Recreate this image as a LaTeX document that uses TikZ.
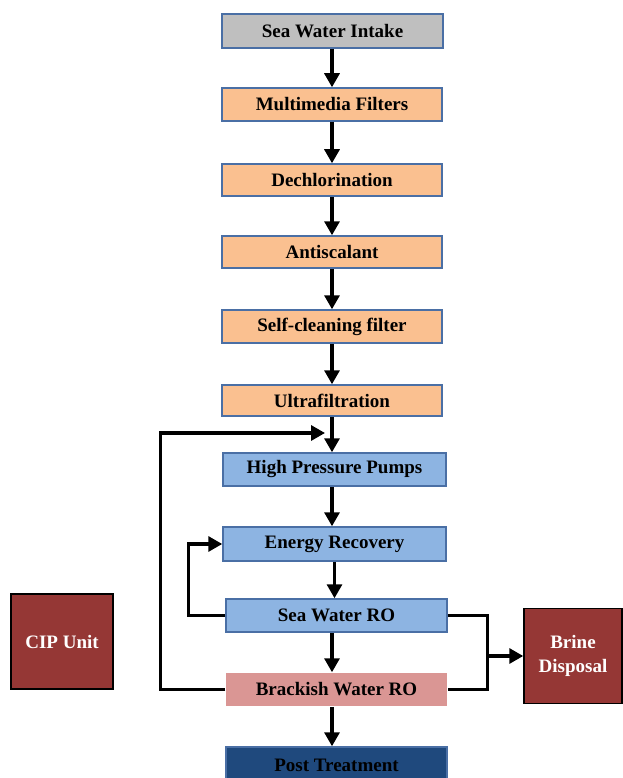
\documentclass[tikz,border=0pt]{standalone}
\usepackage{fontspec}
\setmainfont{Liberation Serif}
\usetikzlibrary{arrows.meta}
\definecolor{intakegray}{HTML}{BFBFBF}
\definecolor{pretan}{HTML}{FAC090}
\definecolor{roblue}{HTML}{8DB4E2}
\definecolor{bwpink}{HTML}{DA9694}
\definecolor{postblue}{HTML}{1F497D}
\definecolor{brinered}{HTML}{953735}
\definecolor{edgeblue}{HTML}{4A6FA5}

\begin{document}
\begin{tikzpicture}[x=1pt,y=-1pt,
  box/.style={draw=edgeblue, line width=1.5pt, minimum width=220pt, minimum height=33pt,
    inner sep=0pt, font=\fontsize{19}{21}\selectfont\bfseries},
  side/.style={draw=black, line width=1.5pt, fill=brinered, text=white, minimum width=100pt,
    minimum height=95pt, align=center, font=\fontsize{19}{24}\selectfont\bfseries},
  flow/.style={line width=3.2pt, -{Triangle[length=14pt,width=15pt]}},
  pipe/.style={line width=3.2pt}]
\useasboundingbox (0,0) rectangle (622,778);
\node[box, fill=intakegray, minimum width=221pt, minimum height=34pt] (intake) at (332.5,31) {Sea Water Intake};
\node[box, fill=pretan] (multi) at (332,104.5) {Multimedia Filters};
\node[box, fill=pretan, minimum height=32pt] (dechl) at (332,180) {Dechlorination};
\node[box, fill=pretan, minimum height=32pt] (anti) at (332,252) {Antiscalant};
\node[box, fill=pretan] (self) at (332,326.5) {Self-cleaning filter};
\node[box, fill=pretan, minimum height=31pt] (ultra) at (332,400.5) {Ultrafiltration};
\node[box, fill=roblue, minimum width=223pt] (hpp) at (334.5,469.5) {High Pressure Pumps};
\node[box, fill=roblue, minimum width=223pt, minimum height=34pt] (energy) at (334.5,544) {Energy Recovery};
\node[box, fill=roblue, minimum width=221pt] (swro) at (336.5,615.5) {Sea Water RO};
\node[box, draw=none, fill=bwpink, minimum width=221pt] (bwro) at (336.5,689.5) {Brackish Water RO};
\node[box, fill=postblue, minimum width=221pt, minimum height=36pt] (post) at (336.5,765) {Post Treatment};
\node[side, minimum width=98pt] (brine) at (573,656) {Brine\\Disposal};
\node[side, minimum width=102pt] (cip) at (62,641.5) {CIP Unit};
\coordinate (ret) at (325,433);
\coordinate (bj) at (487,656);

\draw[flow] (intake.south -| multi.north) -- (multi.north);
\draw[flow] (multi.south) -- (dechl.north);
\draw[flow] (dechl.south) -- (anti.north);
\draw[flow] (anti.south) -- (self.north);
\draw[flow] (self.south) -- (ultra.north);
\draw[flow] (ultra.south) -- (ultra.south |- hpp.north);
\draw[flow] (hpp.south -| ultra.south) -- (energy.north -| ultra.south);
\draw[flow] (energy.south) -- (swro.north -| energy.south);
\draw[flow] (swro.south -| ultra.south) -- (bwro.north -| ultra.south);
\draw[flow] (bwro.south -| ultra.south) -- (post.north -| ultra.south);
\draw[flow] (bwro.west) -- ++(-65,0) |- (ret);
\draw[flow] (swro.west) -- ++(-37,0) |- (energy.west);
\draw[pipe] (swro.east) -- ++(40,0) |- (bwro.east);
\draw[flow] (bj) -- (brine.west);
\end{tikzpicture}
\end{document}
